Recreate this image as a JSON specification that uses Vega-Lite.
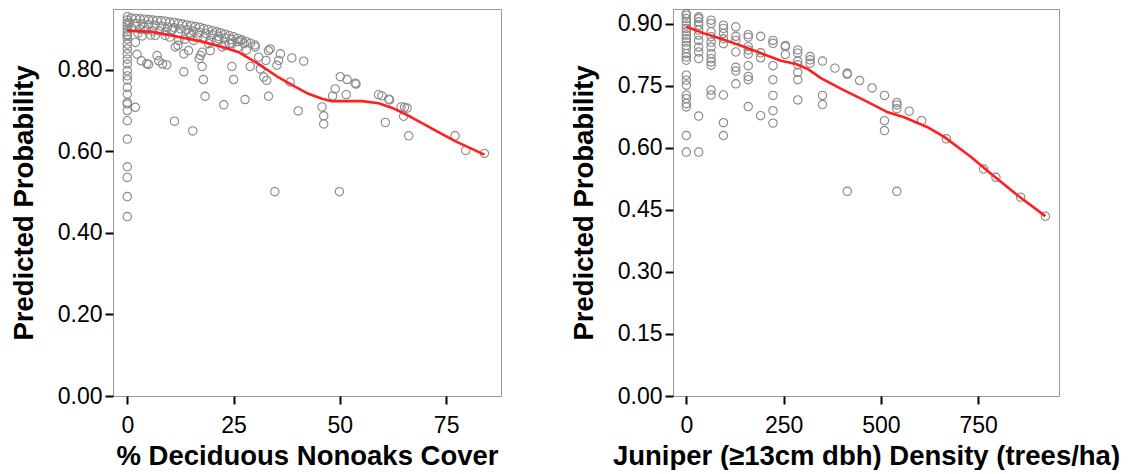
{
  "$schema": "https://vega.github.io/schema/vega-lite/v6.json",
  "background": "white",
  "padding": {"left": 9, "top": 6, "right": 0, "bottom": 0},
  "spacing": 67,
  "datasets": {
    "nonoak_pts": [
      {"cover": 0, "prob": 0.930}, {"cover": 0, "prob": 0.922}, {"cover": 0, "prob": 0.915}, {"cover": 0, "prob": 0.908},
      {"cover": 0, "prob": 0.900}, {"cover": 0, "prob": 0.893}, {"cover": 0, "prob": 0.886}, {"cover": 0, "prob": 0.883},
      {"cover": 0, "prob": 0.875}, {"cover": 0, "prob": 0.863}, {"cover": 0, "prob": 0.851}, {"cover": 0, "prob": 0.839},
      {"cover": 0, "prob": 0.826}, {"cover": 0, "prob": 0.814}, {"cover": 0, "prob": 0.798}, {"cover": 0, "prob": 0.785},
      {"cover": 0, "prob": 0.775}, {"cover": 0, "prob": 0.757}, {"cover": 0, "prob": 0.740}, {"cover": 0, "prob": 0.720},
      {"cover": 0, "prob": 0.716}, {"cover": 0, "prob": 0.700}, {"cover": 0, "prob": 0.675}, {"cover": 0, "prob": 0.630},
      {"cover": 0, "prob": 0.562}, {"cover": 0, "prob": 0.536}, {"cover": 0, "prob": 0.489}, {"cover": 0, "prob": 0.440},
      {"cover": 1, "prob": 0.927}, {"cover": 2, "prob": 0.926}, {"cover": 3, "prob": 0.925}, {"cover": 4, "prob": 0.924},
      {"cover": 5, "prob": 0.923}, {"cover": 6, "prob": 0.922}, {"cover": 7, "prob": 0.921}, {"cover": 8, "prob": 0.920},
      {"cover": 9, "prob": 0.919}, {"cover": 10, "prob": 0.917}, {"cover": 11, "prob": 0.916}, {"cover": 12, "prob": 0.914},
      {"cover": 13, "prob": 0.912}, {"cover": 14, "prob": 0.910}, {"cover": 15, "prob": 0.908}, {"cover": 16, "prob": 0.906},
      {"cover": 17, "prob": 0.904}, {"cover": 18, "prob": 0.901}, {"cover": 19, "prob": 0.899}, {"cover": 20, "prob": 0.896},
      {"cover": 21, "prob": 0.893}, {"cover": 22, "prob": 0.890}, {"cover": 23, "prob": 0.887}, {"cover": 24, "prob": 0.884},
      {"cover": 25, "prob": 0.881}, {"cover": 26, "prob": 0.877}, {"cover": 27, "prob": 0.873}, {"cover": 28, "prob": 0.869},
      {"cover": 29, "prob": 0.865}, {"cover": 30, "prob": 0.861},
      {"cover": 0.5, "prob": 0.915}, {"cover": 2, "prob": 0.914}, {"cover": 3.5, "prob": 0.912}, {"cover": 5, "prob": 0.911},
      {"cover": 6.5, "prob": 0.909}, {"cover": 8, "prob": 0.907}, {"cover": 9.5, "prob": 0.905}, {"cover": 11, "prob": 0.903},
      {"cover": 12.5, "prob": 0.900}, {"cover": 14, "prob": 0.898}, {"cover": 15.5, "prob": 0.895}, {"cover": 17, "prob": 0.892},
      {"cover": 18.5, "prob": 0.889}, {"cover": 20, "prob": 0.886}, {"cover": 21.5, "prob": 0.882}, {"cover": 23, "prob": 0.878},
      {"cover": 24.5, "prob": 0.874}, {"cover": 26, "prob": 0.869}, {"cover": 27.5, "prob": 0.864},
      {"cover": 1, "prob": 0.903}, {"cover": 3, "prob": 0.900}, {"cover": 4.5, "prob": 0.897}, {"cover": 6, "prob": 0.895},
      {"cover": 9, "prob": 0.893}, {"cover": 12, "prob": 0.890}, {"cover": 15, "prob": 0.885}, {"cover": 18, "prob": 0.878},
      {"cover": 21, "prob": 0.872}, {"cover": 24, "prob": 0.864},
      {"cover": 2.5, "prob": 0.890}, {"cover": 4, "prob": 0.905}, {"cover": 5.5, "prob": 0.885}, {"cover": 7.5, "prob": 0.895},
      {"cover": 10, "prob": 0.880}, {"cover": 13.5, "prob": 0.875}, {"cover": 16.5, "prob": 0.880}, {"cover": 19.5, "prob": 0.872},
      {"cover": 23, "prob": 0.860}, {"cover": 26, "prob": 0.855}, {"cover": 28, "prob": 0.848}, {"cover": 10.5, "prob": 0.897},
      {"cover": 14.5, "prob": 0.890},
      {"cover": 1.9, "prob": 0.867}, {"cover": 3.5, "prob": 0.883}, {"cover": 2.3, "prob": 0.838}, {"cover": 3.3, "prob": 0.822},
      {"cover": 4.6, "prob": 0.815}, {"cover": 5.0, "prob": 0.813}, {"cover": 7.0, "prob": 0.835}, {"cover": 7.4, "prob": 0.822},
      {"cover": 8.3, "prob": 0.814}, {"cover": 9.3, "prob": 0.812}, {"cover": 6.6, "prob": 0.884}, {"cover": 8.9, "prob": 0.884},
      {"cover": 11.3, "prob": 0.856}, {"cover": 11.9, "prob": 0.860}, {"cover": 12.1, "prob": 0.872}, {"cover": 13.3, "prob": 0.839},
      {"cover": 14.4, "prob": 0.847}, {"cover": 13.3, "prob": 0.795}, {"cover": 15.6, "prob": 0.872}, {"cover": 16.9, "prob": 0.827},
      {"cover": 17.2, "prob": 0.835}, {"cover": 17.6, "prob": 0.843}, {"cover": 19.5, "prob": 0.847}, {"cover": 17.6, "prob": 0.808},
      {"cover": 17.9, "prob": 0.776}, {"cover": 18.3, "prob": 0.735}, {"cover": 19.1, "prob": 0.864}, {"cover": 11.1, "prob": 0.674},
      {"cover": 15.4, "prob": 0.650}, {"cover": 1.9, "prob": 0.708}, {"cover": 21.5, "prob": 0.876}, {"cover": 22.3, "prob": 0.856},
      {"cover": 22.7, "prob": 0.714}, {"cover": 24.6, "prob": 0.864}, {"cover": 24.6, "prob": 0.808}, {"cover": 25.0, "prob": 0.776},
      {"cover": 26.6, "prob": 0.872}, {"cover": 27.7, "prob": 0.727}, {"cover": 28.9, "prob": 0.808}, {"cover": 30.1, "prob": 0.856},
      {"cover": 30.9, "prob": 0.831}, {"cover": 31.3, "prob": 0.802}, {"cover": 32.1, "prob": 0.782}, {"cover": 32.8, "prob": 0.774},
      {"cover": 33.2, "prob": 0.735}, {"cover": 32.6, "prob": 0.823}, {"cover": 33.2, "prob": 0.847}, {"cover": 33.6, "prob": 0.851},
      {"cover": 35.2, "prob": 0.811}, {"cover": 35.6, "prob": 0.823}, {"cover": 36.0, "prob": 0.839}, {"cover": 38.3, "prob": 0.770},
      {"cover": 38.7, "prob": 0.829}, {"cover": 41.5, "prob": 0.821}, {"cover": 40.2, "prob": 0.699}, {"cover": 34.7, "prob": 0.501},
      {"cover": 49.9, "prob": 0.501},
      {"cover": 50.1, "prob": 0.783}, {"cover": 51.7, "prob": 0.776}, {"cover": 53.6, "prob": 0.767}, {"cover": 53.8, "prob": 0.765},
      {"cover": 48.9, "prob": 0.753}, {"cover": 48.3, "prob": 0.736}, {"cover": 51.5, "prob": 0.739}, {"cover": 45.8, "prob": 0.709},
      {"cover": 46.2, "prob": 0.687}, {"cover": 46.2, "prob": 0.667}, {"cover": 59.1, "prob": 0.739}, {"cover": 59.9, "prob": 0.736},
      {"cover": 61.5, "prob": 0.728}, {"cover": 61.7, "prob": 0.726}, {"cover": 64.4, "prob": 0.709}, {"cover": 65.2, "prob": 0.708},
      {"cover": 65.8, "prob": 0.706}, {"cover": 65.0, "prob": 0.686}, {"cover": 60.7, "prob": 0.671}, {"cover": 66.2, "prob": 0.638},
      {"cover": 77.1, "prob": 0.638}, {"cover": 79.6, "prob": 0.602}, {"cover": 84.0, "prob": 0.595}
    ],
    "nonoak_fit": [
      {"cover": 0, "prob": 0.896}, {"cover": 5.8, "prob": 0.893}, {"cover": 11.3, "prob": 0.882}, {"cover": 17.6, "prob": 0.869},
      {"cover": 23, "prob": 0.854}, {"cover": 26.2, "prob": 0.843}, {"cover": 30.9, "prob": 0.814}, {"cover": 35.6, "prob": 0.781},
      {"cover": 38.7, "prob": 0.763}, {"cover": 42.6, "prob": 0.741}, {"cover": 45.8, "prob": 0.729}, {"cover": 48.1, "prob": 0.723},
      {"cover": 55.2, "prob": 0.723}, {"cover": 59.1, "prob": 0.718}, {"cover": 62.2, "prob": 0.707}, {"cover": 66.2, "prob": 0.687},
      {"cover": 73.2, "prob": 0.647}, {"cover": 77.1, "prob": 0.625}, {"cover": 84.0, "prob": 0.592}
    ],
    "juniper_pts": [
      {"density": 0, "prob": 0.925}, {"density": 0, "prob": 0.921}, {"density": 0, "prob": 0.913}, {"density": 0, "prob": 0.905},
      {"density": 0, "prob": 0.897}, {"density": 0, "prob": 0.889}, {"density": 0, "prob": 0.881}, {"density": 0, "prob": 0.873},
      {"density": 0, "prob": 0.864}, {"density": 0, "prob": 0.856}, {"density": 0, "prob": 0.848}, {"density": 0, "prob": 0.840},
      {"density": 0, "prob": 0.828}, {"density": 0, "prob": 0.820}, {"density": 0, "prob": 0.812}, {"density": 0, "prob": 0.776},
      {"density": 0, "prob": 0.764}, {"density": 0, "prob": 0.752}, {"density": 0, "prob": 0.728}, {"density": 0, "prob": 0.719},
      {"density": 0, "prob": 0.707}, {"density": 0, "prob": 0.699}, {"density": 0, "prob": 0.630}, {"density": 0, "prob": 0.590},
      {"density": 31.8, "prob": 0.917}, {"density": 31.8, "prob": 0.913}, {"density": 31.8, "prob": 0.905}, {"density": 31.8, "prob": 0.897},
      {"density": 31.8, "prob": 0.885}, {"density": 31.8, "prob": 0.873}, {"density": 31.8, "prob": 0.860}, {"density": 31.8, "prob": 0.844},
      {"density": 31.8, "prob": 0.832}, {"density": 31.8, "prob": 0.816}, {"density": 31.8, "prob": 0.677}, {"density": 31.8, "prob": 0.590},
      {"density": 63.7, "prob": 0.909}, {"density": 63.7, "prob": 0.901}, {"density": 63.7, "prob": 0.881}, {"density": 63.7, "prob": 0.869},
      {"density": 63.7, "prob": 0.856}, {"density": 63.7, "prob": 0.844}, {"density": 63.7, "prob": 0.828}, {"density": 63.7, "prob": 0.816},
      {"density": 63.7, "prob": 0.808}, {"density": 63.7, "prob": 0.800}, {"density": 63.7, "prob": 0.740}, {"density": 63.7, "prob": 0.728},
      {"density": 95.5, "prob": 0.897}, {"density": 95.5, "prob": 0.889}, {"density": 95.5, "prob": 0.877}, {"density": 95.5, "prob": 0.864},
      {"density": 95.5, "prob": 0.852}, {"density": 95.5, "prob": 0.728}, {"density": 95.5, "prob": 0.661}, {"density": 95.5, "prob": 0.630},
      {"density": 127.3, "prob": 0.893}, {"density": 127.3, "prob": 0.870}, {"density": 127.3, "prob": 0.860}, {"density": 127.3, "prob": 0.832},
      {"density": 127.3, "prob": 0.795}, {"density": 127.3, "prob": 0.786}, {"density": 127.3, "prob": 0.755},
      {"density": 159.2, "prob": 0.874}, {"density": 159.2, "prob": 0.868}, {"density": 159.2, "prob": 0.845}, {"density": 159.2, "prob": 0.837},
      {"density": 159.2, "prob": 0.827}, {"density": 159.2, "prob": 0.799}, {"density": 159.2, "prob": 0.773}, {"density": 159.2, "prob": 0.765},
      {"density": 159.2, "prob": 0.700},
      {"density": 191, "prob": 0.870}, {"density": 191, "prob": 0.830}, {"density": 191, "prob": 0.818}, {"density": 191, "prob": 0.678},
      {"density": 222.8, "prob": 0.860}, {"density": 222.8, "prob": 0.853}, {"density": 222.8, "prob": 0.799}, {"density": 222.8, "prob": 0.765},
      {"density": 222.8, "prob": 0.727}, {"density": 222.8, "prob": 0.690}, {"density": 222.8, "prob": 0.660},
      {"density": 254.6, "prob": 0.848}, {"density": 254.6, "prob": 0.845}, {"density": 254.6, "prob": 0.826},
      {"density": 286.5, "prob": 0.837}, {"density": 286.5, "prob": 0.829}, {"density": 286.5, "prob": 0.810}, {"density": 286.5, "prob": 0.801},
      {"density": 286.5, "prob": 0.783}, {"density": 286.5, "prob": 0.765}, {"density": 286.5, "prob": 0.716},
      {"density": 318.3, "prob": 0.821}, {"density": 318.3, "prob": 0.813}, {"density": 318.3, "prob": 0.805},
      {"density": 350.1, "prob": 0.810}, {"density": 350.1, "prob": 0.727}, {"density": 350.1, "prob": 0.705},
      {"density": 382, "prob": 0.793},
      {"density": 413.8, "prob": 0.781}, {"density": 413.8, "prob": 0.778}, {"density": 413.8, "prob": 0.495},
      {"density": 445.6, "prob": 0.763},
      {"density": 477.5, "prob": 0.745},
      {"density": 509.3, "prob": 0.727}, {"density": 509.3, "prob": 0.666}, {"density": 509.3, "prob": 0.642},
      {"density": 541.1, "prob": 0.710}, {"density": 541.1, "prob": 0.704}, {"density": 541.1, "prob": 0.695}, {"density": 541.1, "prob": 0.495},
      {"density": 573, "prob": 0.689},
      {"density": 604.8, "prob": 0.666},
      {"density": 668.5, "prob": 0.622},
      {"density": 764, "prob": 0.549},
      {"density": 795.8, "prob": 0.529},
      {"density": 859.4, "prob": 0.481},
      {"density": 923, "prob": 0.435}
    ],
    "juniper_fit": [
      {"density": 0, "prob": 0.893}, {"density": 46, "prob": 0.877}, {"density": 89, "prob": 0.864}, {"density": 132, "prob": 0.850},
      {"density": 184, "prob": 0.832}, {"density": 243, "prob": 0.811}, {"density": 282, "prob": 0.803}, {"density": 312, "prob": 0.791},
      {"density": 346, "prob": 0.769}, {"density": 398, "prob": 0.743}, {"density": 458, "prob": 0.715}, {"density": 518, "prob": 0.686},
      {"density": 560, "prob": 0.674}, {"density": 620, "prob": 0.650}, {"density": 664, "prob": 0.626}, {"density": 732, "prob": 0.578},
      {"density": 784, "prob": 0.537}, {"density": 852, "prob": 0.485}, {"density": 923, "prob": 0.435}
    ]
  },
  "hconcat": [
    {
      "width": 388,
      "height": 387,
      "layer": [
        {
          "data": {"name": "nonoak_pts"},
          "mark": {"type": "point", "shape": "circle", "filled": false, "size": 70, "color": "#888888", "strokeWidth": 1.1, "opacity": 1},
          "encoding": {
            "x": {
              "field": "cover", "type": "quantitative", "title": "% Deciduous Nonoaks Cover",
              "scale": {"domain": [-3.36, 87.9], "nice": false, "zero": false},
              "axis": {"values": [0, 25, 50, 75], "labelPadding": 10, "titlePadding": 5}
            },
            "y": {
              "field": "prob", "type": "quantitative", "title": "Predicted Probability",
              "scale": {"domain": [0, 0.949], "nice": false},
              "axis": {"values": [0, 0.2, 0.4, 0.6, 0.8], "format": ".2f", "labelPadding": 3, "titlePadding": 19}
            }
          }
        },
        {
          "data": {"name": "nonoak_fit"},
          "mark": {"type": "line", "color": "#ff1f1f", "strokeWidth": 2.6},
          "encoding": {
            "x": {"field": "cover", "type": "quantitative"},
            "y": {"field": "prob", "type": "quantitative"}
          }
        }
      ]
    },
    {
      "width": 386,
      "height": 387,
      "layer": [
        {
          "data": {"name": "juniper_pts"},
          "mark": {"type": "point", "shape": "circle", "filled": false, "size": 70, "color": "#888888", "strokeWidth": 1.1, "opacity": 1},
          "encoding": {
            "x": {
              "field": "density", "type": "quantitative", "title": "Juniper (≥13cm dbh) Density (trees/ha)",
              "scale": {"domain": [-34.2, 958], "nice": false, "zero": false},
              "axis": {"values": [0, 250, 500, 750], "labelPadding": 10, "titlePadding": 5}
            },
            "y": {
              "field": "prob", "type": "quantitative", "title": "Predicted Probability",
              "scale": {"domain": [0, 0.936], "nice": false},
              "axis": {"values": [0, 0.15, 0.3, 0.45, 0.6, 0.75, 0.9], "format": ".2f", "labelPadding": 3, "titlePadding": 19}
            }
          }
        },
        {
          "data": {"name": "juniper_fit"},
          "mark": {"type": "line", "color": "#ff1f1f", "strokeWidth": 2.6},
          "encoding": {
            "x": {"field": "density", "type": "quantitative"},
            "y": {"field": "prob", "type": "quantitative"}
          }
        }
      ]
    }
  ],
  "config": {
    "view": {"stroke": "#9a9a9a", "strokeWidth": 1},
    "axis": {
      "grid": false,
      "domain": false,
      "ticks": true,
      "tickColor": "black",
      "tickWidth": 2,
      "tickSize": 8,
      "labelFont": "Liberation Sans",
      "labelFontSize": 23,
      "labelColor": "black",
      "titleFont": "Liberation Sans",
      "titleFontSize": 27.5,
      "titleFontWeight": "bold",
      "titleColor": "black"
    }
  }
}
